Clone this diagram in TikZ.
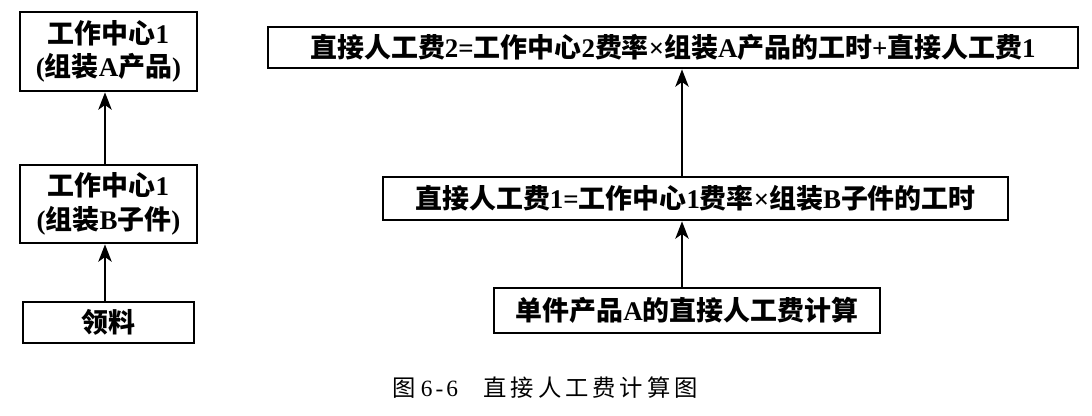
\documentclass[tikz,border=0pt]{standalone}
\usepackage{fontspec}
\setmainfont{Liberation Serif}
\newfontfamily\cjk{Noto Sans CJK SC}
\usetikzlibrary{arrows.meta}
\begin{document}
\begin{tikzpicture}[x=0.75pt,y=-0.75pt,
  box/.style={draw,line width=2pt,rectangle,inner sep=0pt,align=center,
    font=\fontsize{20.2}{25}\selectfont\bfseries},
  arr/.style={line width=1.7pt,-{Stealth[length=13pt,width=10pt,inset=3.5pt]}}]
\useasboundingbox (0,0) rectangle (1092,416);
% left column
\node[box,minimum width=177*0.75pt,minimum height=79*0.75pt] (L1) at (108.5,51.5)
  {{\cjk 工作中心}1\\({\cjk 组装}A{\cjk 产品})};
\node[box,minimum width=177*0.75pt,minimum height=78*0.75pt] (L2) at (108.5,204)
  {{\cjk 工作中心}1\\({\cjk 组装}B{\cjk 子件})};
\node[box,minimum width=171*0.75pt,minimum height=41*0.75pt] (L3) at (108.5,322.5)
  {{\cjk 领料}};
\coordinate (ax) at (105,0);
\draw[arr] (L3.north -| ax) -- (L2.south -| ax);
\draw[arr] (L2.north -| ax) -- (L1.south -| ax);
% right column
\node[box,minimum width=810*0.75pt,minimum height=41*0.75pt] (R1) at (673,47.5)
  {{\cjk 直接人工费}2={\cjk 工作中心}2{\cjk 费率}×{\cjk 组装}A{\cjk 产品的工时}+{\cjk 直接人工费}1};
\node[box,minimum width=625*0.75pt,minimum height=43*0.75pt] (R2) at (695.5,198.5)
  {{\cjk 直接人工费}1={\cjk 工作中心}1{\cjk 费率}×{\cjk 组装}B{\cjk 子件的工时}};
\node[box,minimum width=386*0.75pt,minimum height=45*0.75pt] (R3) at (687,310.5)
  {{\cjk 单件产品}A{\cjk 的直接人工费计算}};
\coordinate (bx) at (682,0);
\draw[arr] (R3.north -| bx) -- (R2.south -| bx);
\draw[arr] (R2.north -| bx) -- (R1.south -| bx);
% caption
\node[anchor=west,inner sep=0pt,font=\fontsize{17.5}{20}\selectfont] (cap) at (392,388)
  {{\cjk 图}\hspace{4pt}{\addfontfeature{LetterSpace=13}6-6}\hspace{19pt}{\cjk\addfontfeature{LetterSpace=17}直接人工费计算图}};
\end{tikzpicture}
\end{document}
